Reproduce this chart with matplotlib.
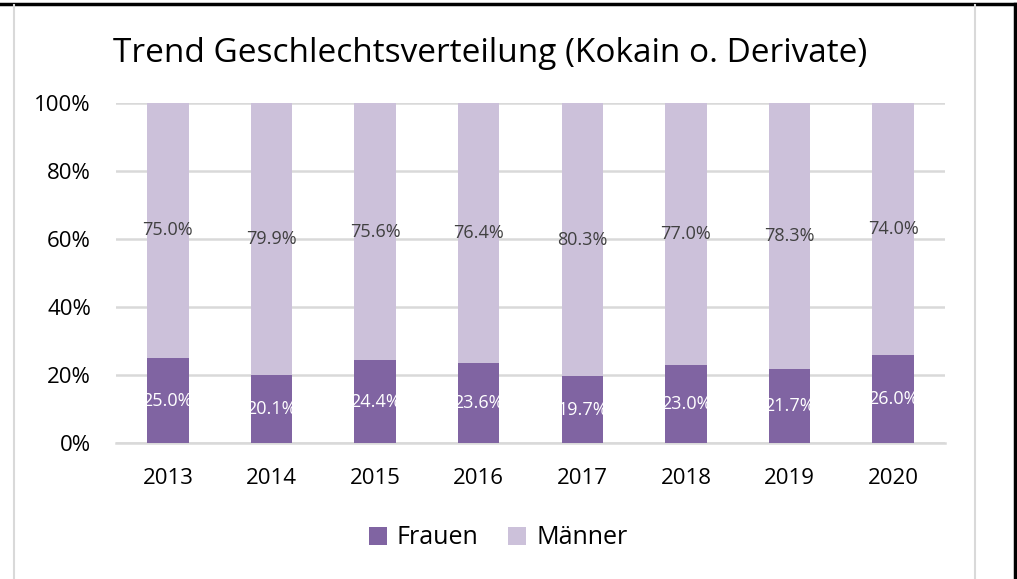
import numpy as np
import matplotlib.pyplot as plt
from matplotlib.lines import Line2D

years = ["2013", "2014", "2015", "2016", "2017", "2018", "2019", "2020"]
frauen = [25.0, 20.1, 24.4, 23.6, 19.7, 23.0, 21.7, 26.0]
maenner = [75.0, 79.9, 75.6, 76.4, 80.3, 77.0, 78.3, 74.0]

W, H = 1017, 579
fig = plt.figure(figsize=(W / 100, H / 100), dpi=100)
plt.rcParams['font.family'] = ['Open Sans', 'DejaVu Sans']

# plot area in pixels: x 116..945, y 103..443
ax = fig.add_axes([116 / W, 1 - 443 / H, (945 - 116) / W, (443 - 103) / H])

x = np.arange(len(years))
c_f = '#8064A2'
c_m = '#CCC1DA'
ax.bar(x, frauen, width=0.4, color=c_f, label='Frauen', zorder=3)
ax.bar(x, maenner, width=0.4, bottom=frauen, color=c_m, label='Männer', zorder=3)

for i in range(len(years)):
    ax.text(x[i], frauen[i] / 2, f"{frauen[i]:.1f}%", ha='center', va='center',
            color='white', fontsize=13, zorder=4)
    ax.text(x[i], frauen[i] + maenner[i] / 2, f"{maenner[i]:.1f}%", ha='center', va='center',
            color='#404040', fontsize=13, zorder=4)

ax.set_xlim(-0.5, len(years) - 0.5)
ax.set_ylim(0, 100)
ax.set_yticks(range(0, 101, 20))
ax.set_yticklabels([f"{v}%" for v in range(0, 101, 20)])
ax.set_xticks(x)
ax.set_xticklabels(years)
ax.tick_params(length=0, labelsize=16, colors='black')
ax.tick_params(axis='x', pad=18)
ax.tick_params(axis='y', pad=18)
ax.grid(axis='y', color='#D9D9D9', linewidth=1.8, zorder=0)
for s in ['top', 'right', 'left']:
    ax.spines[s].set_visible(False)
ax.spines['bottom'].set_color('#D9D9D9')
ax.spines['bottom'].set_linewidth(1.8)

fig.text(490 / W, 1 - 54 / H, "Trend Geschlechtsverteilung (Kokain o. Derivate)",
         ha='center', va='center', fontsize=24)

fig.legend(loc='center', bbox_to_anchor=(498 / W, 1 - 538 / H), ncol=2, frameon=False,
           fontsize=18, handlelength=0.72, handleheight=0.72, handletextpad=0.4,
           columnspacing=1.2)

# frame lines
fig.add_artist(Line2D([0, 1], [1 - 4 / H, 1 - 4 / H], color='black', linewidth=2.5))
fig.add_artist(Line2D([1015 / W, 1015 / W], [0, 1 - 4 / H], color='black', linewidth=2.5))
fig.add_artist(Line2D([14 / W, 14 / W], [0, 1 - 5 / H], color='#D9D9D9', linewidth=1.5))
fig.add_artist(Line2D([975 / W, 975 / W], [0, 1 - 5 / H], color='#D9D9D9', linewidth=1.5))

fig.savefig('out.png', dpi=100)
